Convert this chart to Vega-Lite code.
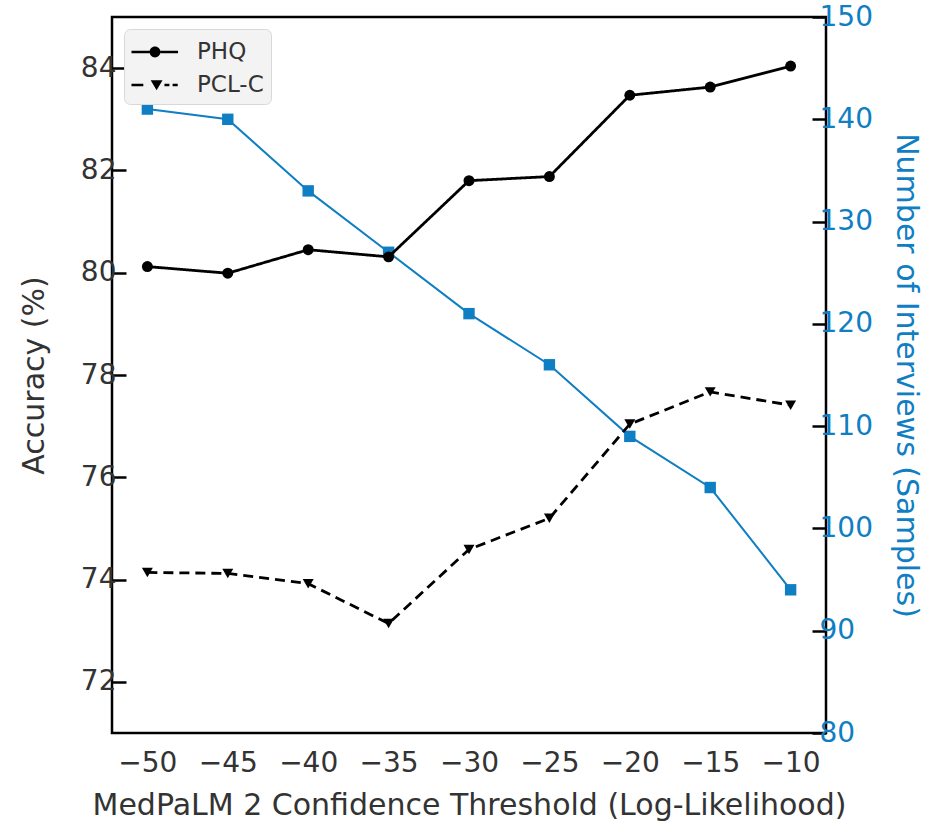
{
  "$schema": "https://vega.github.io/schema/vega-lite/v6.json",
  "width": 714,
  "height": 716,
  "autosize": {"type": "none"},
  "padding": {"left": 112, "top": 17, "right": 100, "bottom": 89},
  "background": "white",
  "config": {
    "font": "DejaVu Sans",
    "view": {"stroke": "black", "strokeWidth": 2.5},
    "axis": {"domain": false, "grid": false, "labelFont": "DejaVu Sans", "titleFont": "DejaVu Sans", "titleFontWeight": "normal"}
  },
  "datasets": {
    "acc": [
      {"t": -50, "series": "PHQ", "acc": 80.12},
      {"t": -45, "series": "PHQ", "acc": 79.99},
      {"t": -40, "series": "PHQ", "acc": 80.45},
      {"t": -35, "series": "PHQ", "acc": 80.31},
      {"t": -30, "series": "PHQ", "acc": 81.8},
      {"t": -25, "series": "PHQ", "acc": 81.88},
      {"t": -20, "series": "PHQ", "acc": 83.47},
      {"t": -15, "series": "PHQ", "acc": 83.63},
      {"t": -10, "series": "PHQ", "acc": 84.04},
      {"t": -50, "series": "PCL-C", "acc": 74.14},
      {"t": -45, "series": "PCL-C", "acc": 74.12},
      {"t": -40, "series": "PCL-C", "acc": 73.92},
      {"t": -35, "series": "PCL-C", "acc": 73.14},
      {"t": -30, "series": "PCL-C", "acc": 74.59},
      {"t": -25, "series": "PCL-C", "acc": 75.2},
      {"t": -20, "series": "PCL-C", "acc": 77.04},
      {"t": -15, "series": "PCL-C", "acc": 77.67},
      {"t": -10, "series": "PCL-C", "acc": 77.41}
    ],
    "samples": [
      {"t": -50, "n": 141},
      {"t": -45, "n": 140},
      {"t": -40, "n": 133},
      {"t": -35, "n": 127},
      {"t": -30, "n": 121},
      {"t": -25, "n": 116},
      {"t": -20, "n": 109},
      {"t": -15, "n": 104},
      {"t": -10, "n": 94}
    ]
  },
  "layer": [
    {
      "data": {"name": "samples"},
      "encoding": {
        "x": {"field": "t", "type": "quantitative", "scale": {"domain": [-52.2, -7.8], "nice": false, "zero": false},
          "axis": {"values": [-50, -45, -40, -35, -30, -25, -20, -15, -10], "ticks": false, "labelPadding": 16, "labelFontSize": 28, "labelColor": "#333333", "title": "MedPaLM 2 Confidence Threshold (Log-Likelihood)", "titleFontSize": 30, "titleColor": "#333333", "titlePadding": 13}},
        "y": {"field": "n", "type": "quantitative", "scale": {"domain": [80, 150], "nice": false, "zero": false},
          "axis": {"orient": "right", "values": [80, 90, 100, 110, 120, 130, 140, 150], "tickSize": -14, "tickWidth": 2.5, "tickColor": "black", "labelPadding": 7, "labelFontSize": 28, "labelColor": "#0f7ec2", "title": "Number of Interviews (Samples)", "titleFontSize": 30, "titleColor": "#0f7ec2", "titlePadding": 18}}
      },
      "layer": [
        {"mark": {"type": "line", "color": "#0f7ec2", "strokeWidth": 2}},
        {"mark": {"type": "point", "shape": "square", "filled": true, "opacity": 1, "color": "#0f7ec2", "size": 130}}
      ]
    },
    {
      "data": {"name": "acc"},
      "encoding": {
        "x": {"field": "t", "type": "quantitative", "scale": {"domain": [-52.2, -7.8], "nice": false, "zero": false}},
        "y": {"field": "acc", "type": "quantitative", "scale": {"domain": [71, 85], "nice": false, "zero": false},
          "axis": {"orient": "left", "values": [72, 74, 76, 78, 80, 82, 84], "tickSize": -14, "tickWidth": 2.5, "tickColor": "black", "labelPadding": 10, "labelFontSize": 28, "labelColor": "#333333", "title": "Accuracy (%)", "titleFontSize": 30, "titleColor": "#333333", "titlePadding": 31}}
      },
      "resolve": {"scale": {"shape": "independent"}, "legend": {"shape": "independent"}},
      "layer": [
        {
          "mark": {"type": "line", "color": "black", "strokeWidth": 2.8},
          "encoding": {
            "strokeDash": {"field": "series", "type": "nominal", "scale": {"domain": ["PHQ", "PCL-C"], "range": [[1, 0], [10, 6]]}, "legend": null}
          }
        },
        {
          "mark": {"type": "point", "filled": true, "opacity": 1, "color": "black", "size": 120},
          "encoding": {
            "shape": {"field": "series", "type": "nominal", "scale": {"domain": ["PHQ", "PCL-C"], "range": ["circle", "triangle-down"]}, "legend": null}
          }
        },
        {
          "transform": [{"filter": "datum.acc > 1000"}],
          "mark": {"type": "point", "filled": true, "opacity": 1, "color": "black"},
          "encoding": {
            "shape": {"field": "series", "type": "nominal",
              "scale": {"domain": ["PHQ", "PCL-C"], "range": [
                "M-0.97,-0.08H0.16V0.08H-0.97Z M0.84,-0.08H1.94V0.08H0.84Z M0.84,0A0.34,0.34 0 1 1 0.16,0A0.34,0.34 0 1 1 0.84,0Z",
                "M-0.97,-0.08H-0.23V0.08H-0.97Z M0.23,-0.3H0.97L0.6,0.33Z M1.09,-0.08H1.4V0.08H1.09Z M1.6,-0.08H1.92V0.08H1.6Z"
              ]},
              "legend": {"title": null, "orient": "top-left", "offset": 12, "symbolSize": 1024, "symbolFillColor": "black", "symbolStrokeWidth": 0, "symbolOpacity": 1, "labelFontSize": 23, "labelColor": "#333333", "labelFont": "DejaVu Sans", "labelOffset": 34, "rowPadding": 5, "padding": 7, "fillColor": "#f3f3f3", "strokeColor": "#d8d8d8", "cornerRadius": 6}
            }
          }
        }
      ]
    }
  ],
  "resolve": {"scale": {"y": "independent"}}
}
